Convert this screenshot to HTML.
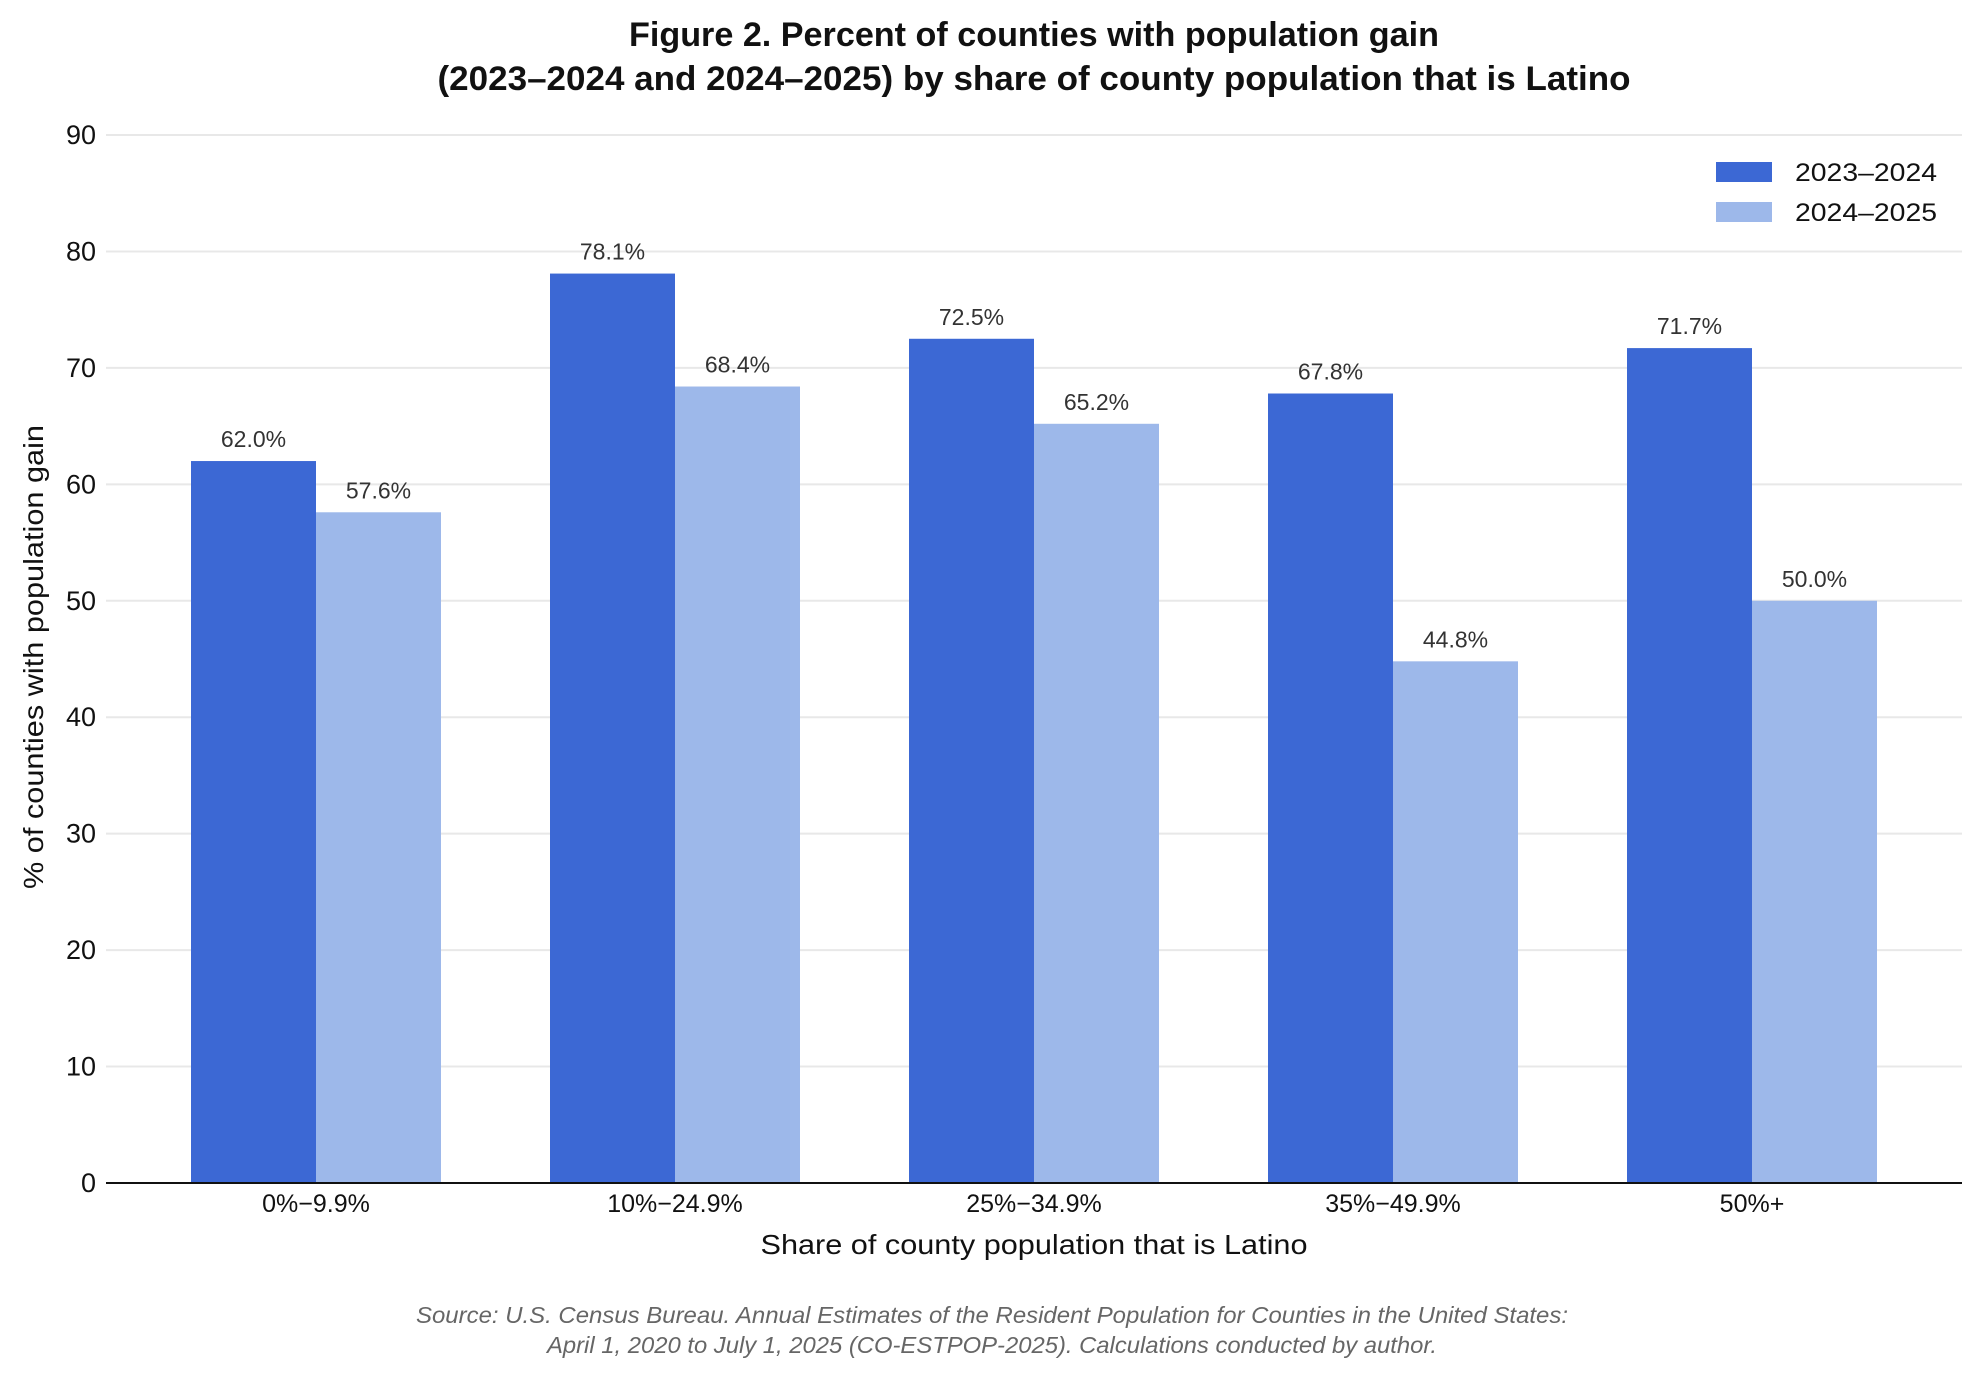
<!DOCTYPE html>
<html><head><meta charset="utf-8"><style>
html,body{margin:0;padding:0;background:#fff}
svg{display:block}
text{font-family:"Liberation Sans Narrow","Liberation Sans",sans-serif}
</style></head><body>
<svg id="chart" width="1982" height="1379" viewBox="0 0 1982 1379" xmlns="http://www.w3.org/2000/svg">
<text x="1034" y="46" text-anchor="middle" font-size="34" font-weight="bold" fill="#111" textLength="810" lengthAdjust="spacingAndGlyphs">Figure 2. Percent of counties with population gain</text>
<text x="1034" y="90" text-anchor="middle" font-size="34" font-weight="bold" fill="#111" textLength="1193" lengthAdjust="spacingAndGlyphs">(2023–2024 and 2024–2025) by share of county population that is Latino</text>
<g id="grid"></g><g id="bars"></g><g id="labels"></g>
<line x1="106" x2="1962" y1="1183" y2="1183" stroke="#111" stroke-width="2"/>
<text x="1034" y="1254" text-anchor="middle" font-size="28" fill="#111" textLength="547" lengthAdjust="spacingAndGlyphs">Share of county population that is Latino</text>
<text transform="translate(43,657) rotate(-90)" text-anchor="middle" font-size="28" fill="#111" textLength="464" lengthAdjust="spacingAndGlyphs">% of counties with population gain</text>
<g>
<rect x="1716" y="162" width="56" height="20" fill="#3c68d4"/>
<text x="1795" y="181" font-size="25" fill="#111" textLength="142" lengthAdjust="spacingAndGlyphs">2023–2024</text>
<rect x="1716" y="202" width="56" height="20" fill="#9db8ea"/>
<text x="1795" y="221" font-size="25" fill="#111" textLength="142" lengthAdjust="spacingAndGlyphs">2024–2025</text>
</g>
<text x="992" y="1323" text-anchor="middle" font-size="23" font-style="italic" fill="#666" textLength="1152" lengthAdjust="spacingAndGlyphs">Source: U.S. Census Bureau. Annual Estimates of the Resident Population for Counties in the United States:</text>
<text x="992" y="1353" text-anchor="middle" font-size="23" font-style="italic" fill="#666" textLength="890" lengthAdjust="spacingAndGlyphs">April 1, 2020 to July 1, 2025 (CO-ESTPOP-2025). Calculations conducted by author.</text>
</svg>
<script>
const categories = ["0%−9.9%", "10%−24.9%", "25%−34.9%", "35%−49.9%", "50%+"];
const series2324 = [62.0, 78.1, 72.5, 67.8, 71.7];
const series2425 = [57.6, 68.4, 65.2, 44.8, 50.0];
const yTicks = [0, 10, 20, 30, 40, 50, 60, 70, 80, 90];

const NS = "http://www.w3.org/2000/svg";
const y = v => 1183 - v * (1183 - 135) / 90;
const xCenter = i => 316 + i * 359;
const barW = 125;
function mk(tag, attrs, parent, txt) {
  const e = document.createElementNS(NS, tag);
  for (const k in attrs) e.setAttribute(k, attrs[k]);
  if (txt !== undefined) e.textContent = txt;
  parent.appendChild(e);
  return e;
}
const grid = document.getElementById("grid");
const bars = document.getElementById("bars");
const labels = document.getElementById("labels");
yTicks.forEach(t => {
  if (t > 0) {
    const l = mk("line", {x1: 106, x2: 1962, y1: y(t), y2: y(t), stroke: "#e8e8e8", "stroke-width": 2}, grid);
    
    
  }
  const tx = mk("text", {x: 96, y: y(t) + 9, "text-anchor": "end", "font-size": 27, fill: "#111"}, grid, String(t));
  
  
});
categories.forEach((c, i) => {
  const cx = xCenter(i);
  const v1 = series2324[i], v2 = series2425[i];
  const b1 = mk("rect", {x: cx - barW, y: y(v1), width: barW, height: y(0) - y(v1), fill: "#3c68d4"}, bars);
  
  
  const b2 = mk("rect", {x: cx, y: y(v2), width: barW, height: y(0) - y(v2), fill: "#9db8ea"}, bars);
  
  
  const l1 = mk("text", {x: cx - barW / 2, y: y(v1) - 14, "text-anchor": "middle", "font-size": 23, fill: "#333"}, labels, v1.toFixed(1) + "%");
  
  
  const l2 = mk("text", {x: cx + barW / 2, y: y(v2) - 14, "text-anchor": "middle", "font-size": 23, fill: "#333"}, labels, v2.toFixed(1) + "%");
  
  
  const xl = mk("text", {x: cx, y: 1212, "text-anchor": "middle", "font-size": 25, fill: "#111"}, labels, c);
  
  
});
</script>
</body></html>
